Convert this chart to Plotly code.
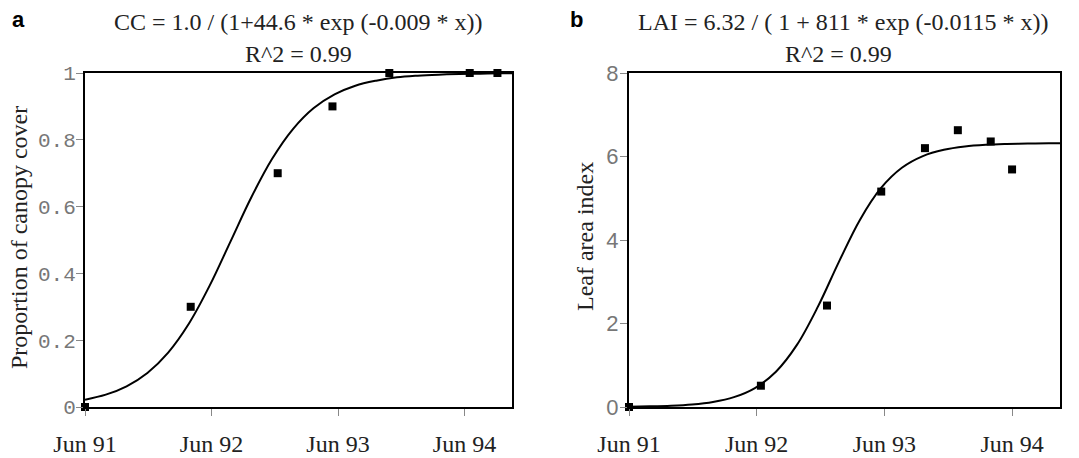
import plotly.graph_objects as go

# ---- data (days since Jun 91) ----
tick_days = [0, 365, 730, 1095]
tick_labels = ["Jun 91", "Jun 92", "Jun 93", "Jun 94"]

# Panel a: canopy cover observations
cc_days = [0, 305, 556, 714, 878, 1110, 1190]
cc_obs = [0.0, 0.30, 0.70, 0.90, 1.0, 1.0, 1.0]
# Panel a: fitted curve
cc_fit_days = [0, 60, 120, 180, 240, 300, 360, 420, 480, 540, 600, 660, 720,
               780, 840, 900, 960, 1020, 1080, 1140, 1200, 1232]
cc_fit = [0.022, 0.037, 0.062, 0.102, 0.163, 0.250, 0.364, 0.496, 0.628, 0.743,
          0.832, 0.895, 0.936, 0.962, 0.977, 0.987, 0.992, 0.995, 0.997, 0.998,
          0.999, 0.999]

# Panel b: leaf area index observations
lai_days = [0, 377, 566, 721, 846, 940, 1034, 1095]
lai_obs = [0.0, 0.51, 2.43, 5.16, 6.20, 6.63, 6.36, 5.69]
# Panel b: fitted curve
lai_fit_days = [0, 60, 120, 180, 240, 300, 360, 420, 480, 540, 600, 660, 720,
                780, 840, 900, 960, 1020, 1080, 1140, 1200, 1232]
lai_fit = [0.008, 0.016, 0.031, 0.061, 0.121, 0.236, 0.454, 0.845, 1.487, 2.403,
           3.477, 4.482, 5.241, 5.729, 6.009, 6.160, 6.239, 6.279, 6.299, 6.310,
           6.315, 6.317]

title_a = ["CC = 1.0 / (1+44.6 * exp (-0.009 * x))", "R^2 = 0.99"]
title_b = ["LAI = 6.32 / ( 1 + 811 * exp (-0.0115 * x))", "R^2 = 0.99"]

W, H = 1079, 458
def px(x): return x / W
def py(y): return 1 - y / H

fig = go.Figure()
fig.add_trace(go.Scatter(x=cc_fit_days, y=cc_fit, mode="lines", line=dict(color="black", width=2, shape="spline"),
                         xaxis="x", yaxis="y", showlegend=False, cliponaxis=False))
fig.add_trace(go.Scatter(x=cc_days, y=cc_obs, mode="markers", marker=dict(symbol="square", size=8, color="black"),
                         xaxis="x", yaxis="y", showlegend=False, cliponaxis=False))
fig.add_trace(go.Scatter(x=lai_fit_days, y=lai_fit, mode="lines", line=dict(color="black", width=2, shape="spline"),
                         xaxis="x2", yaxis="y2", showlegend=False, cliponaxis=False))
fig.add_trace(go.Scatter(x=lai_days, y=lai_obs, mode="markers", marker=dict(symbol="square", size=8, color="black"),
                         xaxis="x2", yaxis="y2", showlegend=False, cliponaxis=False))

top, bot = 73, 407
xcommon = dict(range=[0, 1232], tickvals=tick_days, ticktext=tick_labels, showgrid=False, zeroline=False,
               showline=True, linecolor="black", linewidth=2, mirror=True, ticks="outside", ticklen=7,
               tickcolor="#888", tickwidth=1, ticklabelstandoff=7, automargin=False,
               tickfont=dict(family="Liberation Serif", size=24, color="#222"))
ycommon = dict(showgrid=False, zeroline=False, showline=True, linecolor="black", linewidth=2, mirror=True,
               ticks="outside", ticklen=7, tickcolor="#888", tickwidth=1, automargin=False)

fig.update_layout(
    width=W, height=H, margin=dict(l=0, r=0, t=0, b=0, autoexpand=False),
    paper_bgcolor="white", plot_bgcolor="white",
    xaxis=dict(domain=[px(85), px(512)], anchor="y", **xcommon),
    yaxis=dict(domain=[py(bot), py(top)], anchor="x", range=[0, 1],
               tickvals=[0, 0.2, 0.4, 0.6, 0.8, 1], ticktext=["0", "0.2", "0.4", "0.6", "0.8", "1"],
               ticklabelstandoff=-4,
               tickfont=dict(family="Liberation Mono", size=21, color="#777"), **ycommon),
    xaxis2=dict(domain=[px(629), px(1060)], anchor="y2", **xcommon),
    yaxis2=dict(domain=[py(bot), py(top)], anchor="x2", range=[0, 8],
                tickvals=[0, 2, 4, 6, 8], ticklabelstandoff=-3,
                tickfont=dict(family="Liberation Sans", size=22, color="#777"), **ycommon),
)

ann = []
serif = dict(family="Liberation Serif", size=24, color="#222")
serif_y = dict(family="Liberation Serif", size=24, color="#222")
def note(text, x, y, font, angle=0):
    ann.append(dict(text=text, x=px(x), y=py(y), xref="paper", yref="paper", showarrow=False,
                    xanchor="center", yanchor="middle", textangle=angle, font=font))
note(title_a[0], 298, 22, serif)
note(title_a[1], 298, 54, serif)
note(title_b[0], 843, 22, serif)
note(title_b[1], 838, 54, serif)
bold = dict(family="Liberation Sans", size=22, color="black")
note("<b>a</b>", 18, 20, bold)
note("<b>b</b>", 576, 20, bold)
note("Proportion of canopy cover", 19, 238, serif_y, -90)
note("Leaf area index", 585, 237, serif_y, -90)
fig.update_layout(annotations=ann)

fig.write_html("out.html")
